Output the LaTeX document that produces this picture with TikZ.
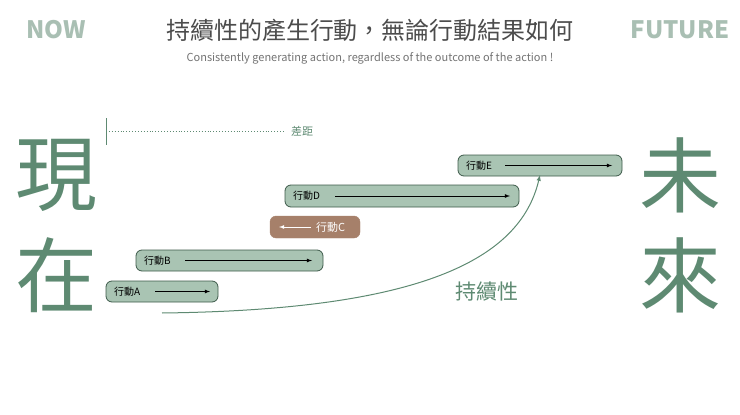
\documentclass[tikz,border=0pt]{standalone}
\usepackage{fontspec}
\setmainfont{Noto Sans CJK TC}
\definecolor{lg}{HTML}{A9BFB3}
\definecolor{dg}{HTML}{5E8A72}
\definecolor{barf}{HTML}{A9C4B3}
\definecolor{bard}{HTML}{3D5A4A}
\definecolor{brn}{HTML}{A6806A}
\begin{document}
\begin{tikzpicture}[x=1pt,y=-1pt,
 bar/.style={draw=bard,fill=barf,rounded corners=6pt,line width=0.8pt},
 lbl/.style={font=\fontsize{10}{10}\selectfont,anchor=west,inner sep=0pt},
 arr/.style={-latex,line width=0.8pt},
 big/.style={font=\fontsize{82}{82}\selectfont,text=dg}]
\useasboundingbox (0,0) rectangle (740,415);
\node[font=\fontsize{24}{24}\selectfont\bfseries,text=lg] (now) at (56,30) {NOW};
\node[font=\fontsize{24}{24}\selectfont\bfseries,text=lg] (fut) at (680,30) {FUTURE};
\node[font=\fontsize{24}{24}\selectfont,text=black!70] (title) at (370,30) {持續性的產生行動，無論行動結果如何};
\node[font=\fontsize{11}{11}\selectfont,text=black!55] (sub) at (370,58) {Consistently generating action, regardless of the outcome of the action !};
\node[big] (xian) at (57,175) {現};
\node[big] (zai) at (57,275) {在};
\node[big] (wei) at (680,175) {未};
\node[big] (lai) at (680,275) {來};
\coordinate (t1) at (106,118); \coordinate (t2) at (106,145);
\coordinate (g1) at (106,131); \coordinate (g2) at (285,131);
\draw[dg,line width=0.8pt] (t1) -- (t2);
\draw[dg,dotted,line width=0.9pt] (g1) -- (g2);
\node[lbl,text=dg,font=\fontsize{11}{11}\selectfont] (gap) at (291,131) {差距};
% A
\draw[bar] (106,281) rectangle (218,302);
\node[lbl] (la) at (114,291.5) {行動A};
\coordinate (a1) at (155,291.5); \coordinate (a2) at (210,291.5);
\draw[arr] (a1) -- (a2);
% B
\draw[bar] (136,250) rectangle (323,271);
\node[lbl] (lb) at (144,260.5) {行動B};
\coordinate (b1) at (185,260.5); \coordinate (b2) at (312,260.5);
\draw[arr] (b1) -- (b2);
% C
\draw[draw=brn,fill=brn,rounded corners=6pt] (270,216) rectangle (360,238);
\node[lbl,text=white,font=\fontsize{11}{11}\selectfont] (lc) at (316,227) {行動C};
\coordinate (c1) at (311,227); \coordinate (c2) at (279,227);
\draw[arr,white] (c1) -- (c2);
% D
\draw[bar] (285,185) rectangle (519,207);
\node[lbl] (ld) at (293,196) {行動D};
\coordinate (d1) at (335,196); \coordinate (d2) at (510,196);
\draw[arr] (d1) -- (d2);
% E
\draw[bar] (458,155) rectangle (622,176);
\node[lbl] (le) at (466,165.5) {行動E};
\coordinate (e1) at (505,165.5); \coordinate (e2) at (612,165.5);
\draw[arr] (e1) -- (e2);
% curve
\coordinate (s) at (162,313); \coordinate (f) at (540,175);
\draw[dg,-latex,line width=1pt] (s) .. controls (420,310) and (520,260) .. (f);
\node[font=\fontsize{21}{21}\selectfont,text=dg] (cx) at (487,292) {持續性};
\end{tikzpicture}
\end{document}
